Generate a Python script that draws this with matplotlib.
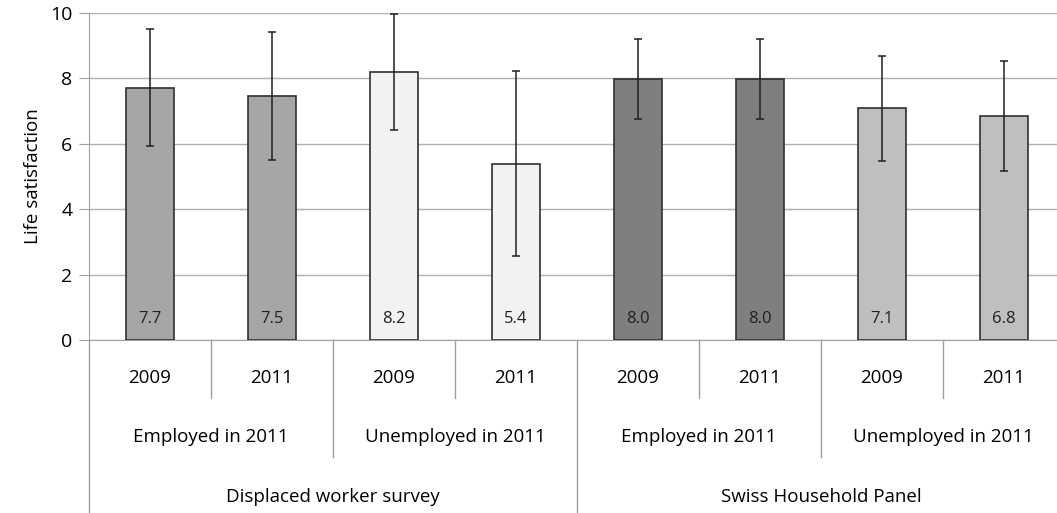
import numpy as np
import matplotlib.pyplot as plt
from matplotlib.lines import Line2D

plt.rcParams['font.family'] = ['Open Sans', 'DejaVu Sans']

# data
years = ['2009', '2011', '2009', '2011', '2009', '2011', '2009', '2011']
groups = ['Employed in 2011', 'Unemployed in 2011', 'Employed in 2011', 'Unemployed in 2011']
surveys = ['Displaced worker survey', 'Swiss Household Panel']
values = [7.72, 7.46, 8.19, 5.39, 7.99, 7.98, 7.09, 6.85]
labels = ['7.7', '7.5', '8.2', '5.4', '8.0', '8.0', '7.1', '6.8']
err_lo = [1.79, 1.96, 1.77, 2.83, 1.22, 1.21, 1.63, 1.67]
err_hi = [1.78, 1.97, 1.77, 2.84, 1.21, 1.22, 1.59, 1.67]
colors = ['#a6a6a6', '#a6a6a6', '#f2f2f2', '#f2f2f2',
          '#7f7f7f', '#7f7f7f', '#bfbfbf', '#bfbfbf']

fig = plt.figure(figsize=(10.57, 5.13), dpi=100)
ax = fig.add_axes([89/1057, 173/513, 976/1057, 327/513])

x = np.arange(len(values))
ax.bar(x, values, width=0.4, color=colors, edgecolor='#303030', linewidth=1.2, zorder=3)
ax.errorbar(x, values, yerr=[err_lo, err_hi], fmt='none', ecolor='#202020',
            elinewidth=1.1, capsize=3, capthick=1.1, zorder=4)

for xi, lab in zip(x, labels):
    ax.text(xi, 0.64, lab, ha='center', va='center', fontsize=12, color='#202020', zorder=5)

ax.set_xlim(-0.5, 7.5)
ax.set_ylim(0, 10)
ax.set_yticks(range(0, 11, 2))
ax.tick_params(axis='y', labelsize=14, length=7, color='#a0a0a0', pad=5)
ax.tick_params(axis='x', length=0, labelbottom=False)
ax.grid(axis='y', color='#b0b0b0', linewidth=1, zorder=0)
for s in ['top', 'right']:
    ax.spines[s].set_visible(False)
ax.spines['left'].set_color('#a0a0a0')
ax.spines['bottom'].set_color('#a0a0a0')
ax.set_ylabel('Life satisfaction', fontsize=13.5, labelpad=6)

# multi-level category axis
tr = ax.get_xaxis_transform()
h = 327.0
fs = 13.5
for xi, yr in zip(x, years):
    ax.text(xi, -38/h, yr, transform=tr, ha='center', va='center', fontsize=fs)
for i, g in enumerate(groups):
    ax.text(2*i + 0.5, -97/h, g, transform=tr, ha='center', va='center', fontsize=fs)
for i, s in enumerate(surveys):
    ax.text(4*i + 1.5, -157/h, s, transform=tr, ha='center', va='center', fontsize=fs)

for b in np.arange(-0.5, 8.0, 1.0):
    k = int(b + 0.5)
    if k % 4 == 0:
        depth = 173
    elif k % 2 == 0:
        depth = 117
    else:
        depth = 58
    ax.add_line(Line2D([b, b], [0, -depth/h], transform=tr, color='#a0a0a0',
                       linewidth=1, clip_on=False))

fig.savefig('out.png', dpi=100)
